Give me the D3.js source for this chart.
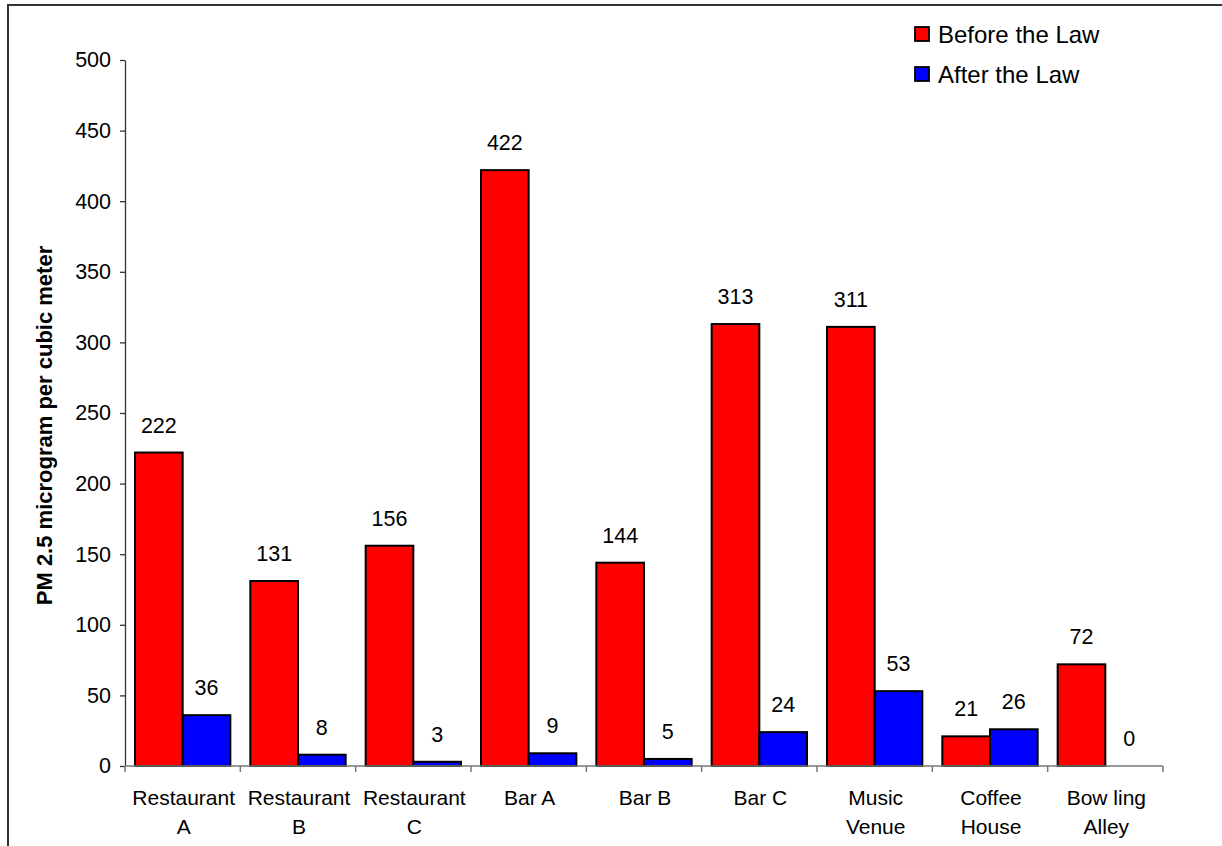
<!DOCTYPE html>
<html>
<head>
<meta charset="utf-8">
<script src="https://cdn.jsdelivr.net/npm/d3@7"></script>
<style>
  html, body { margin: 0; padding: 0; background: #fff; }
  svg { display: block; font-family: "Liberation Sans", Arial, sans-serif; }
</style>
</head>
<body>
<svg id="chart" width="1222" height="846"></svg>
<script>
// Venues measured, split into two display lines
const categories = [
  ["Restaurant", "A"], ["Restaurant", "B"], ["Restaurant", "C"],
  ["Bar A"], ["Bar B"], ["Bar C"],
  ["Music", "Venue"], ["Coffee", "House"], ["Bow ling", "Alley"]
];
const beforeLaw = [222, 131, 156, 422, 144, 313, 311, 21, 72];
const afterLaw  = [36, 8, 3, 9, 5, 24, 53, 26, 0];
const seriesNames = ["Before the Law", "After the Law"];
const seriesColors = ["#ff0000", "#0000ff"];
const yTicks = [0, 50, 100, 150, 200, 250, 300, 350, 400, 450, 500];

const svg = d3.select("#chart");
const margin = { left: 125, right: 1163, top: 60, bottom: 766 };

// outer frame (top and left edges)
svg.append("path")
  .attr("d", "M8,846 V5 H1222")
  .attr("fill", "none").attr("stroke", "#333").attr("stroke-width", 2);

const x0 = d3.scaleBand()
  .domain(d3.range(categories.length))
  .range([margin.left, margin.right])
  .paddingInner(0).paddingOuter(0);

const groupPad = 10;
const x1 = d3.scaleBand()
  .domain([0, 1])
  .range([0, x0.bandwidth() - 2 * groupPad]);

const y = d3.scaleLinear().domain([0, 500]).range([margin.bottom, margin.top]);

// y axis
const yAxis = svg.append("g")
  .attr("transform", `translate(${margin.left},0)`)
  .call(d3.axisLeft(y).tickValues(yTicks).tickSize(5).tickSizeOuter(0).tickPadding(9));
yAxis.select(".domain").attr("stroke", "#333").attr("stroke-width", 1.3);
yAxis.selectAll(".tick line").attr("stroke", "#333").attr("stroke-width", 1.3);
yAxis.selectAll(".tick text").attr("font-size", 21.5).attr("fill", "#000")
  .attr("font-family", "Liberation Sans, Arial, sans-serif");

// y axis title
svg.append("text")
  .attr("transform", `translate(52,${(243 + 608) / 2}) rotate(-90)`)
  .attr("text-anchor", "middle")
  .attr("font-size", 22).attr("font-weight", "bold")
  .text("PM 2.5 microgram per cubic meter");

// bars
const rows = categories.map((c, i) => ({ i, values: [beforeLaw[i], afterLaw[i]] }));
const groups = svg.append("g").selectAll("g")
  .data(rows).join("g")
  .attr("transform", d => `translate(${x0(d.i) + groupPad},0)`);

groups.selectAll("rect")
  .data(d => d.values.map((v, s) => ({ v, s })))
  .join("rect")
  .filter(d => d.v > 0)
  .attr("x", d => x1(d.s))
  .attr("y", d => y(d.v))
  .attr("width", x1.bandwidth())
  .attr("height", d => y(0) - y(d.v))
  .attr("fill", d => seriesColors[d.s])
  .attr("stroke", "#000").attr("stroke-width", 2);

groups.selectAll("text.val")
  .data(d => d.values.map((v, s) => ({ v, s })))
  .join("text").attr("class", "val")
  .attr("x", d => x1(d.s) + x1.bandwidth() / 2)
  .attr("y", d => y(d.v) - 20)
  .attr("text-anchor", "middle")
  .attr("font-size", 21.5)
  .text(d => d.v);

// x axis
const xAxisG = svg.append("g");
xAxisG.append("line")
  .attr("x1", margin.left).attr("x2", margin.right)
  .attr("y1", y(0)).attr("y2", y(0))
  .attr("stroke", "#777").attr("stroke-width", 1.5);
const boundaries = d3.range(categories.length + 1).map(i =>
  i < categories.length ? x0(i) : x0(i - 1) + x0.bandwidth());
xAxisG.selectAll("line.tk").data(boundaries).join("line").attr("class", "tk")
  .attr("x1", d => d).attr("x2", d => d)
  .attr("y1", y(0)).attr("y2", y(0) + 6)
  .attr("stroke", "#777").attr("stroke-width", 1.5);

const catLabels = svg.append("g").selectAll("text")
  .data(categories).join("text")
  .attr("x", (d, i) => x0(i) + x0.bandwidth() / 2 + 1)
  .attr("y", 805)
  .attr("text-anchor", "middle")
  .attr("font-size", 21);
catLabels.selectAll("tspan")
  .data(d => d).join("tspan")
  .attr("x", function () { return this.parentNode.getAttribute("x"); })
  .attr("dy", (d, i) => i === 0 ? 0 : 29)
  .text(d => d);

// legend
const legend = svg.append("g").selectAll("g")
  .data(seriesNames).join("g")
  .attr("transform", (d, i) => `translate(915,${27 + i * 40})`);
legend.append("rect")
  .attr("width", 14).attr("height", 14)
  .attr("fill", (d, i) => seriesColors[i])
  .attr("stroke", "#000").attr("stroke-width", 1.8);
legend.append("text")
  .attr("x", 23).attr("y", 15.5)
  .attr("font-size", 24)
  .text(d => d);
</script>
</body>
</html>
